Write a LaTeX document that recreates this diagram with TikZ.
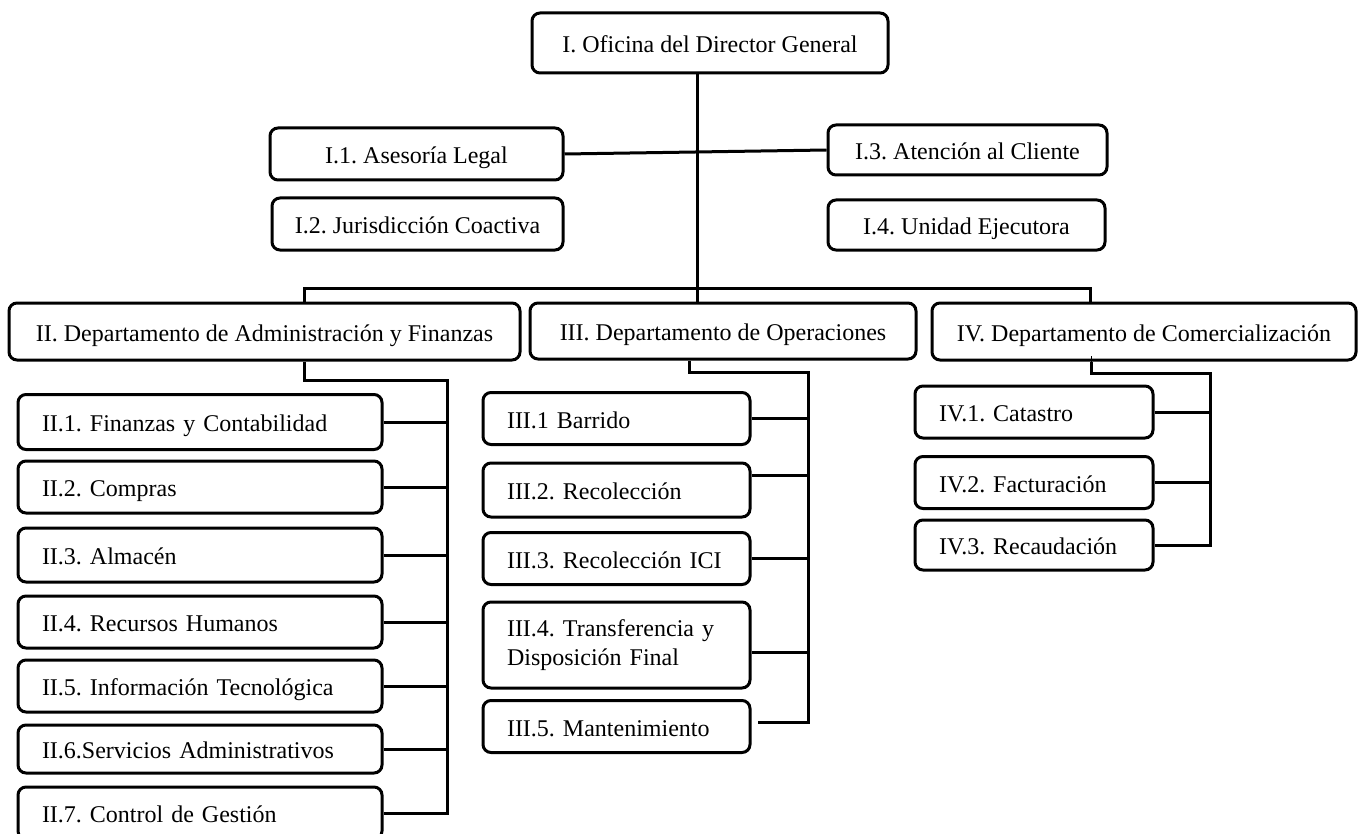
\documentclass[tikz,border=0pt]{standalone}
\usepackage{fontspec}
\setmainfont{Liberation Serif}
\frenchspacing
\begin{document}
\begin{tikzpicture}[
        x=0.5pt, y=-0.5pt,
        unit/.style={rectangle, draw, line width=1.5pt, rounded corners=4pt, inner sep=0pt, align=center, text height=11pt, text depth=1.5pt, font=\fontsize{12}{14.5}\selectfont},
        sub/.style={unit, align=left, text width=#1, inner xsep=12pt, minimum height=26pt},
        link/.style={line width=1.5pt}
    ]
        \useasboundingbox (0,0) rectangle (1358,834);

        % Oficina del Director General and staff units
        \node[unit, minimum width=178pt, minimum height=30pt] (dir_root) at (710,43) {I. Oficina del Director General};
        \node[unit, minimum width=146.5pt, minimum height=26pt] (dir_legal) at (416.5,154) {I.1. Asesoría Legal};
        \node[unit, minimum width=145.5pt, minimum height=26pt] (dir_coact) at (417.5,224) {I.2. Jurisdicción Coactiva};
        \node[unit, minimum width=139.5pt, minimum height=25pt] (dir_client) at (967.5,150) {I.3. Atención al Cliente};
        \node[unit, minimum width=138.5pt, minimum height=25pt] (dir_exec) at (966.5,225) {I.4. Unidad Ejecutora};
        \draw[link] (dir_legal.east) -- (dir_client.west);

        % Departments
        \node[unit, minimum width=255.5pt, minimum height=28.5pt] (dep_adm) at (264.5,331.5) {II. Departamento de Administración y Finanzas};
        \node[unit, minimum width=193pt, minimum height=28pt] (dep_op) at (723,331) {III. Departamento de Operaciones};
        \node[unit, minimum width=212pt, minimum height=28.5pt] (dep_com) at (1144,331.5) {IV. Departamento de Comercialización};
        \coordinate (bus_dep) at (697,288);
        \draw[link] ([xshift=-6.5pt]dir_root.south) -- ([xshift=-13pt]dep_op.north);
        \draw[link] ([xshift=19.75pt]dep_adm.north) |- (bus_dep) -| ([xshift=-27pt]dep_com.north);

        % II: Administracion y Finanzas
        \node[sub=158pt, minimum height=27.5pt] (adm_fin) at (200,422) {II.1. Finanzas y Contabilidad};
        \node[sub=158pt] (adm_comp) at (200,487) {II.2. Compras};
        \node[sub=158pt, minimum height=27pt] (adm_alm) at (200,555) {II.3. Almacén};
        \node[sub=158pt] (adm_rh) at (200,622) {II.4. Recursos Humanos};
        \node[sub=158pt] (adm_it) at (200,686) {II.5. Información Tecnológica};
        \node[sub=158pt, minimum height=24pt] (adm_serv) at (200,749) {II.6.Servicios Administrativos};
        \node[sub=158pt] (adm_ctrl) at (200,813) {II.7. Control de Gestión};
        \coordinate (bus_adm) at (447,380);
        \draw[link] ([xshift=19.75pt]dep_adm.south) |- (bus_adm) |- (adm_ctrl.east);
        \draw[link] (adm_fin.east) -- (adm_fin.east -| bus_adm);
        \draw[link] (adm_comp.east) -- (adm_comp.east -| bus_adm);
        \draw[link] (adm_alm.east) -- (adm_alm.east -| bus_adm);
        \draw[link] (adm_rh.east) -- (adm_rh.east -| bus_adm);
        \draw[link] (adm_it.east) -- (adm_it.east -| bus_adm);
        \draw[link] (adm_serv.east) -- (adm_serv.east -| bus_adm);

        % III: Operaciones
        \node[sub=109.5pt] (op_barr) at (616.5,418.5) {III.1 Barrido};
        \node[sub=109.5pt, minimum height=27pt] (op_rec) at (616.5,490) {III.2. Recolección};
        \node[sub=109.5pt] (op_ici) at (616.5,558.5) {III.3. Recolección ICI};
        \node[sub=109.5pt, minimum height=43pt, text height=, text depth=] (op_trans) at (616.5,645) {\makebox[107.5pt][s]{III.4. Transferencia y}\\Disposición Final};
        \node[sub=109.5pt] (op_mant) at (616.5,726.5) {III.5. Mantenimiento};
        \coordinate (bus_op) at (808,372);
        \draw[link] ([xshift=-17pt]dep_op.south) |- (bus_op) |- ([xshift=3pt,yshift=2pt]op_mant.east);
        \draw[link] (op_barr.east) -- (op_barr.east -| bus_op);
        \draw[link] ([yshift=7.5pt]op_rec.east) -- ([yshift=7.5pt]op_rec.east -| bus_op);
        \draw[link] (op_ici.east) -- (op_ici.east -| bus_op);
        \draw[link] ([yshift=-3.5pt]op_trans.east) -- ([yshift=-3.5pt]op_trans.east -| bus_op);

        % IV: Comercializacion
        \node[sub=95pt] (com_cat) at (1034,412) {IV.1. Catastro};
        \node[sub=95pt] (com_fact) at (1034,482.5) {IV.2. Facturación};
        \node[sub=95pt, minimum height=25pt] (com_rec) at (1034,545) {IV.3. Recaudación};
        \coordinate (bus_com) at (1210,373);
        \draw[thin] ([xshift=-26.5pt]dep_com.south) -- ++(0,3pt);
        \draw[link] ([xshift=-26.5pt]dep_com.south) |- (bus_com) |- (com_rec.east);
        \draw[link] (com_cat.east) -- (com_cat.east -| bus_com);
        \draw[link] (com_fact.east) -- (com_fact.east -| bus_com);

    \end{tikzpicture}
\end{document}
